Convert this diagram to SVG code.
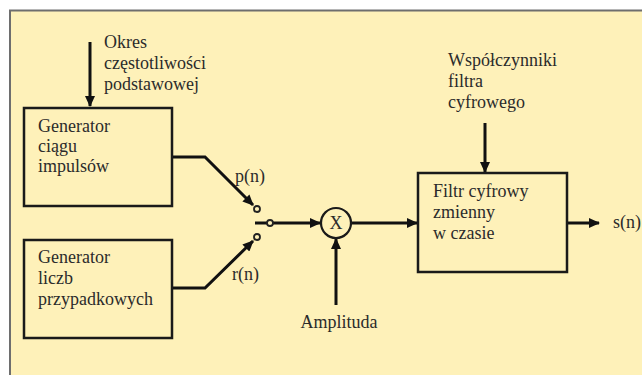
<svg xmlns="http://www.w3.org/2000/svg" width="642" height="375" viewBox="0 0 642 375">
<defs>
<style>
text{font-family:"Liberation Serif","Times New Roman",serif;font-size:18px;fill:#2b2b2b}
.box{fill:none;stroke:#1a1a1a;stroke-width:2.5}
.ln{fill:none;stroke:#111;stroke-width:3}
.ct{fill:none;stroke:#222;stroke-width:1.8}
</style>
<marker id="ah" markerWidth="12" markerHeight="10" refX="10" refY="5" orient="auto" markerUnits="userSpaceOnUse">
<path d="M0,0 L11,5 L0,10 Z" fill="#111"/>
</marker>
</defs>
<rect x="0" y="0" width="642" height="375" fill="#ffffff"/>
<rect x="10" y="10" width="640" height="370" fill="#fef1b9"/>
<path d="M10,375 L10,10.5 L642,10.5" fill="none" stroke="#6e6e6e" stroke-width="2"/>

<g id="connectors">
<line class="ln" x1="90" y1="42" x2="90" y2="106" marker-end="url(#ah)"/>
<polyline class="ln" points="173,157 205,157 253,205" marker-end="url(#ah)"/>
<polyline class="ln" points="173,288 205,288 253,241" marker-end="url(#ah)"/>
<line class="ln" x1="255" y1="223" x2="267" y2="223"/>
<line class="ln" x1="273" y1="223" x2="320" y2="223" marker-end="url(#ah)"/>
<line class="ln" x1="351" y1="223" x2="417" y2="223" marker-end="url(#ah)"/>
<line class="ln" x1="336" y1="305" x2="336" y2="239" marker-end="url(#ah)"/>
<line class="ln" x1="485" y1="123" x2="485" y2="172" marker-end="url(#ah)"/>
<line class="ln" x1="567" y1="223" x2="599" y2="223" marker-end="url(#ah)"/>
<circle class="ct" cx="257" cy="209" r="3"/>
<circle class="ct" cx="257" cy="237" r="3"/>
<circle class="ct" cx="270" cy="223" r="3"/>
</g>

<g id="label-okres">
<text x="104" y="48">Okres</text>
<text x="104" y="69">częstotliwości</text>
<text x="104" y="90">podstawowej</text>
</g>

<g id="gen-impulsow">
<rect class="box" x="24" y="108" width="148" height="98"/>
<text x="38" y="132">Generator</text>
<text x="38" y="152">ciągu</text>
<text x="38" y="172">impulsów</text>
</g>

<g id="gen-liczb">
<rect class="box" x="24" y="240" width="148" height="98"/>
<text x="38" y="263">Generator</text>
<text x="38" y="284">liczb</text>
<text x="38" y="305">przypadkowych</text>
</g>

<g id="label-pn"><text x="235" y="182">p(n)</text></g>
<g id="label-rn"><text x="232" y="280">r(n)</text></g>

<g id="mult">
<circle cx="336" cy="223" r="15" fill="none" stroke="#1a1a1a" stroke-width="2.2"/>
<text x="336" y="229" text-anchor="middle">X</text>
</g>

<g id="label-amplituda"><text x="339" y="328" text-anchor="middle">Amplituda</text></g>

<g id="label-wspolczynniki">
<text x="448" y="66">Współczynniki</text>
<text x="448" y="87">filtra</text>
<text x="448" y="108">cyfrowego</text>
</g>

<g id="filtr">
<rect class="box" x="418" y="173" width="149" height="99"/>
<text x="433" y="197">Filtr cyfrowy</text>
<text x="433" y="218">zmienny</text>
<text x="433" y="239">w czasie</text>
</g>

<g id="label-sn"><text x="613" y="228">s(n)</text></g>
</svg>
